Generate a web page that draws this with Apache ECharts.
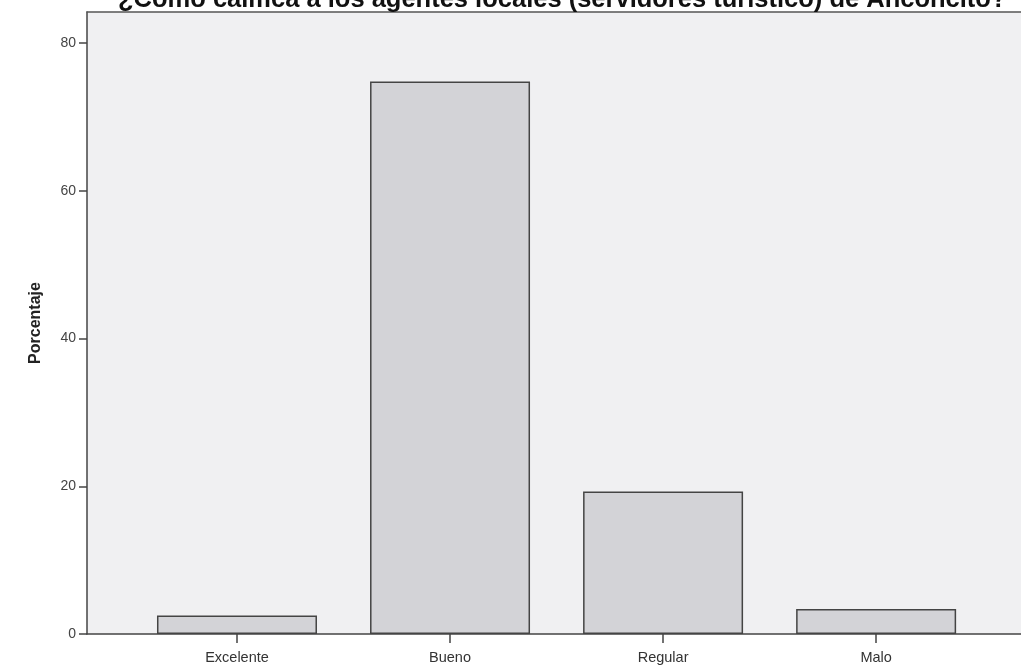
<!DOCTYPE html>
<html><head><meta charset="utf-8">
<script src="https://cdn.jsdelivr.net/npm/echarts@6/dist/echarts.min.js"></script>
<style>html,body{margin:0;padding:0;background:#fff}#c{width:1021px;height:668px}</style>
</head><body><div id="c"></div>
<script>
const titleText = '¿Cómo califica a los agentes locales (servidores turístico) de Anconcito?';
const categories = ['Excelente', 'Bueno', 'Regular', 'Malo'];
const porcentaje = [2.5, 74.8, 19.3, 3.4];
const yTicks = [0, 20, 40, 60, 80];
const yName = 'Porcentaje';

const font = 'Liberation Sans, Arial';
const chart = echarts.init(document.getElementById('c'));
chart.setOption({
  backgroundColor: '#ffffff',
  animation: false,
  title: {
    text: titleText, left: 113, top: -18,
    textStyle: { fontFamily: font, fontWeight: 'bold', fontSize: 25.5, color: '#111' }
  },
  grid: { left: 87, right: 0, top: 12, bottom: 34, show: true, backgroundColor: '#f0f0f2', borderWidth: 0 },
  xAxis: [{
    type: 'value', min: 0.296, max: 4.68,
    splitLine: { show: false },
    axisLine: { show: true, lineStyle: { color: '#444', width: 1.5 } },
    axisTick: { show: true, length: 9, lineStyle: { color: '#444', width: 1.5 }, customValues: categories.map((c, i) => i + 1) },
    axisLabel: { customValues: categories.map((c, i) => i + 1), formatter: v => categories[Math.round(v) - 1] || '', margin: 16,
      fontFamily: font, fontSize: 14.5, color: '#333' }
  }, {
    type: 'value', position: 'top', min: 0.296, max: 4.68,
    splitLine: { show: false },
    axisLine: { show: true, lineStyle: { color: '#555', width: 1.5 } },
    axisTick: { show: false }, axisLabel: { show: false }
  }],
  yAxis: {
    type: 'value', min: 0, max: 84.2,
    splitLine: { show: false },
    name: yName, nameLocation: 'middle', nameGap: 43,
    nameTextStyle: { fontFamily: font, fontWeight: 'bold', fontSize: 16, color: '#222' },
    axisLine: { show: true, lineStyle: { color: '#444', width: 1.5 } },
    axisTick: { show: true, length: 8, lineStyle: { color: '#444', width: 1.5 }, customValues: yTicks },
    axisLabel: { customValues: yTicks, margin: 11, fontFamily: font, fontSize: 14, color: '#444' }
  },
  series: [{
    type: 'bar',
    barWidth: 160,
    data: porcentaje.map((v, i) => [i + 1, v]),
    itemStyle: { color: '#d3d3d7', borderColor: '#444', borderWidth: 1.5 }
  }]
});
</script></body></html>
